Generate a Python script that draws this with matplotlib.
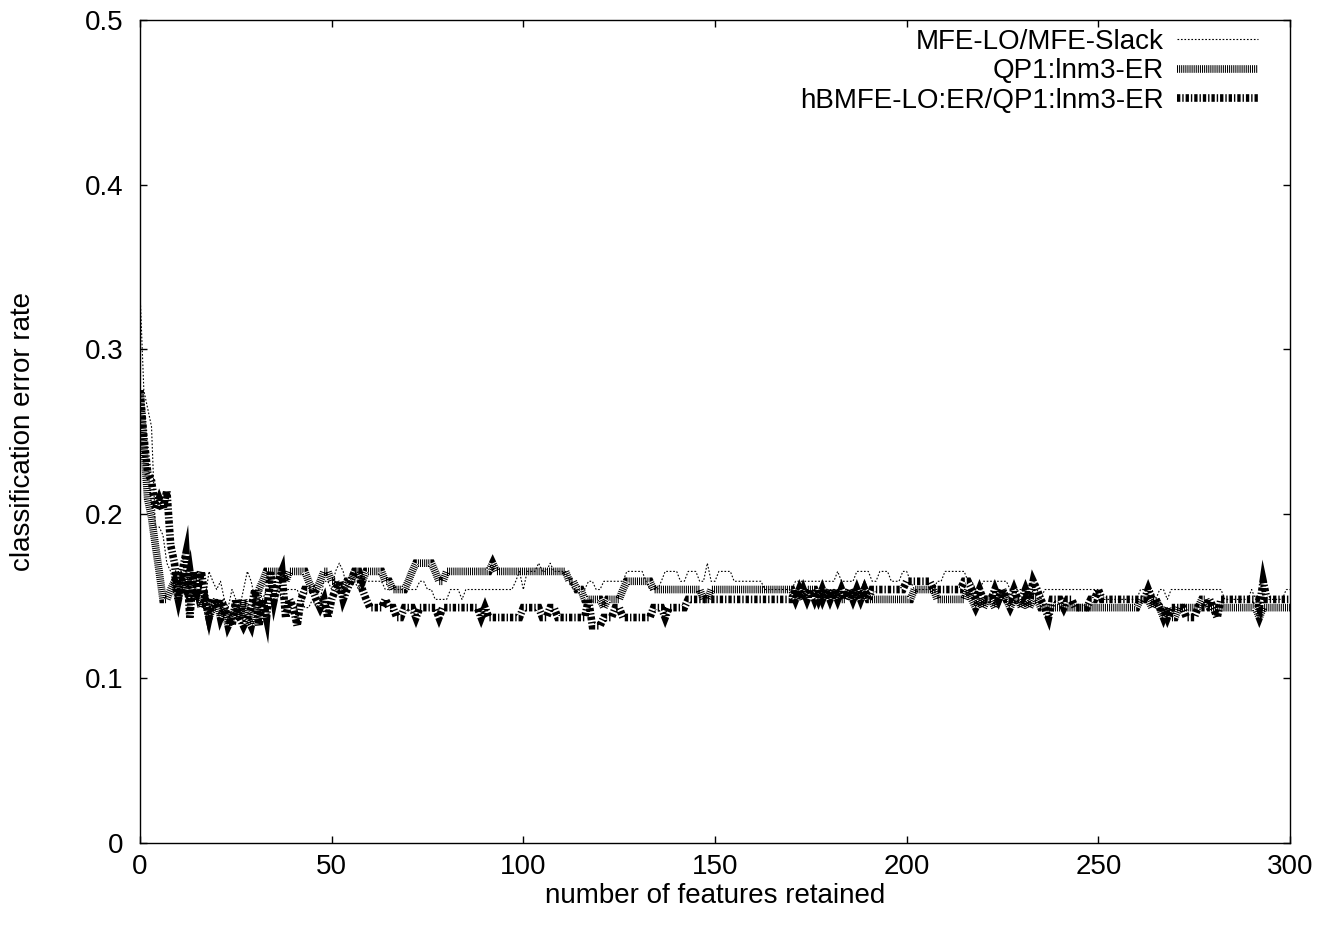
import matplotlib.pyplot as plt

plt.rcParams['font.family'] = ['Liberation Sans', 'DejaVu Sans']
plt.rcParams['lines.scale_dashes'] = False

# number of features retained (0..300)
n_features = list(range(0, 301))

# classification error rate
mfe_slack = [
    .335, .275, .264, .253, .192, .192, .187, .170, .165, .154,
    .165, .159, .165, .154, .159, .165, .154, .148, .165, .159,
    .154, .159, .148, .143, .154, .148, .143, .154, .165, .159,
    .148, .154, .148, .154, .154, .148, .154, .148, .154, .154,
    .154, .154, .148, .143, .143, .148, .143, .148, .159, .159,
    .154, .165, .170, .165, .154, .159, .159, .154, .159, .159,
    .159, .159, .159, .159, .154, .154, .154, .154, .154, .154,
    .154, .154, .154, .159, .159, .154, .154, .148, .148, .148,
    .148, .154, .154, .154, .148, .154, .154, .154, .154, .154,
    .154, .154, .154, .154, .154, .154, .154, .154, .159, .165,
    .154, .165, .165, .165, .170, .165, .165, .170, .165, .165,
    .165, .165, .159, .154, .154, .154, .154, .159, .159, .154,
    .154, .159, .159, .159, .159, .159, .159, .165, .165, .165,
    .165, .165, .159, .154, .154, .154, .159, .165, .165, .165,
    .165, .159, .159, .165, .165, .165, .159, .159, .170, .159,
    .159, .165, .165, .165, .165, .159, .159, .159, .159, .159,
    .159, .159, .159, .154, .154, .154, .154, .154, .154, .154,
    .154, .159, .159, .159, .159, .159, .159, .159, .159, .159,
    .159, .159, .165, .159, .159, .159, .159, .165, .165, .165,
    .165, .159, .159, .165, .165, .165, .159, .159, .159, .165,
    .165, .159, .154, .154, .154, .154, .154, .154, .159, .159,
    .165, .165, .165, .165, .165, .165, .159, .159, .154, .154,
    .159, .159, .159, .159, .159, .159, .159, .154, .154, .154,
    .154, .154, .148, .154, .154, .148, .154, .154, .154, .154,
    .154, .154, .154, .154, .154, .154, .154, .154, .154, .154,
    .154, .148, .148, .148, .148, .148, .148, .148, .148, .148,
    .148, .154, .154, .154, .154, .148, .154, .154, .148, .154,
    .154, .154, .154, .154, .154, .154, .154, .154, .154, .154,
    .154, .154, .154, .148, .148, .148, .148, .148, .148, .148,
    .154, .148, .148, .148, .148, .148, .148, .148, .148, .154,
    .154,
]

qp1_lnm3 = [
    .275, .242, .209, .198, .181, .165, .148, .148, .154, .159,
    .148, .159, .154, .165, .148, .154, .143, .148, .137, .143,
    .148, .137, .143, .132, .137, .143, .137, .148, .137, .132,
    .143, .154, .159, .165, .165, .165, .165, .165, .159, .165,
    .165, .165, .165, .165, .159, .154, .154, .159, .165, .165,
    .159, .159, .154, .154, .159, .159, .165, .165, .159, .165,
    .165, .165, .165, .165, .159, .159, .154, .154, .154, .154,
    .159, .165, .170, .170, .170, .170, .170, .165, .159, .159,
    .165, .165, .165, .165, .165, .165, .165, .165, .165, .165,
    .165, .165, .170, .165, .165, .165, .165, .165, .165, .165,
    .165, .165, .165, .165, .165, .165, .165, .165, .165, .165,
    .165, .165, .159, .159, .154, .154, .148, .148, .148, .148,
    .148, .143, .148, .148, .148, .148, .154, .159, .159, .159,
    .159, .159, .159, .159, .154, .154, .154, .154, .154, .154,
    .154, .154, .154, .154, .154, .154, .154, .148, .148, .154,
    .154, .154, .154, .154, .154, .154, .154, .154, .154, .154,
    .154, .154, .154, .154, .154, .154, .154, .154, .154, .154,
    .154, .148, .154, .148, .154, .154, .154, .148, .154, .148,
    .154, .148, .154, .148, .148, .154, .148, .154, .148, .154,
    .148, .148, .148, .148, .148, .148, .148, .148, .148, .148,
    .148, .148, .154, .154, .154, .154, .154, .154, .148, .148,
    .148, .148, .148, .148, .148, .148, .154, .148, .143, .148,
    .143, .148, .148, .143, .148, .154, .148, .143, .148, .148,
    .143, .148, .143, .148, .148, .143, .143, .143, .143, .143,
    .143, .143, .143, .143, .143, .143, .143, .143, .143, .143,
    .143, .143, .143, .143, .143, .143, .143, .143, .143, .143,
    .143, .148, .148, .148, .143, .148, .143, .137, .143, .137,
    .137, .143, .143, .143, .143, .143, .143, .148, .148, .143,
    .143, .143, .143, .143, .143, .143, .143, .143, .143, .143,
    .143, .143, .137, .143, .143, .143, .143, .143, .143, .143,
    .143,
]

hbmfe_qp1 = [
    .275, .247, .225, .220, .203, .209, .203, .214, .181, .170,
    .148, .165, .176, .137, .165, .154, .165, .148, .137, .148,
    .143, .148, .143, .137, .132, .148, .137, .132, .137, .143,
    .154, .132, .148, .137, .165, .148, .159, .165, .137, .148,
    .143, .132, .148, .154, .154, .154, .148, .143, .148, .137,
    .148, .154, .159, .148, .154, .159, .165, .165, .154, .148,
    .143, .143, .143, .143, .148, .143, .143, .137, .137, .143,
    .143, .143, .137, .143, .143, .143, .143, .143, .137, .143,
    .143, .143, .143, .143, .143, .143, .143, .143, .143, .137,
    .143, .137, .137, .137, .137, .137, .137, .137, .137, .137,
    .143, .143, .143, .143, .143, .137, .137, .143, .143, .137,
    .137, .137, .137, .137, .137, .137, .137, .148, .132, .132,
    .132, .137, .137, .137, .143, .143, .137, .137, .137, .137,
    .137, .137, .137, .137, .143, .143, .143, .137, .143, .143,
    .143, .143, .143, .148, .148, .148, .148, .148, .148, .148,
    .148, .148, .148, .148, .148, .148, .148, .148, .148, .148,
    .148, .148, .148, .148, .148, .148, .148, .148, .148, .148,
    .148, .154, .148, .154, .148, .154, .148, .154, .148, .154,
    .148, .154, .148, .154, .148, .154, .148, .154, .148, .154,
    .148, .154, .154, .154, .154, .154, .154, .154, .154, .154,
    .159, .159, .159, .159, .159, .159, .159, .154, .154, .154,
    .154, .154, .154, .154, .154, .159, .159, .154, .148, .154,
    .148, .148, .148, .154, .148, .154, .148, .148, .154, .148,
    .148, .154, .148, .159, .154, .148, .143, .137, .148, .148,
    .148, .143, .148, .148, .143, .143, .143, .143, .148, .148,
    .154, .148, .148, .148, .148, .148, .148, .148, .148, .148,
    .148, .148, .148, .154, .148, .148, .143, .143, .137, .143,
    .143, .143, .143, .137, .137, .137, .143, .143, .143, .148,
    .143, .137, .148, .148, .148, .148, .148, .148, .148, .148,
    .148, .148, .143, .159, .148, .148, .148, .148, .148, .148,
    .148,
]

labels = ['MFE-LO/MFE-Slack', 'QP1:lnm3-ER', 'hBMFE-LO:ER/QP1:lnm3-ER']
x_ticks = [0, 50, 100, 150, 200, 250, 300]
y_ticks = [0, 0.1, 0.2, 0.3, 0.4, 0.5]
y_ticklabels = ['0', '0.1', '0.2', '0.3', '0.4', '0.5']

fig = plt.figure(figsize=(13.37, 9.3), dpi=100)
ax = fig.add_axes([140 / 1337, 1 - 843 / 930, 1150 / 1337, 823 / 930])

ax.plot(n_features, mfe_slack, color='black', lw=0.8, ls=(0, (1.2, 1.3)),
        label=labels[0], zorder=2)
ax.plot(n_features, qp1_lnm3, color='black', lw=5.5, ls=(0, (0.75, 0.75)),
        dash_joinstyle='miter', dash_capstyle='butt', label=labels[1], zorder=3)
ax.plot(n_features, hbmfe_qp1, color='black', lw=5.5, ls=(0, (2.4, 1.4, 1.0, 1.4)),
        dash_joinstyle='miter', dash_capstyle='butt', label=labels[2], zorder=4)

ax.set_xlim(0, 300)
ax.set_ylim(0, 0.5)
ax.set_xticks(x_ticks)
ax.set_yticks(y_ticks)
ax.set_yticklabels(y_ticklabels)
ax.tick_params(direction='in', top=True, right=True, length=5, width=1,
               labelsize=20)
ax.tick_params(axis='x', pad=8)
ax.tick_params(axis='y', pad=12)
for s in ax.spines.values():
    s.set_linewidth(1.0)

ax.set_xlabel('number of features retained', fontsize=20, labelpad=2)
ax.set_ylabel('classification error rate', fontsize=20)
ax.yaxis.set_label_coords(-0.09, 0.5)

ax.legend(loc='upper right', bbox_to_anchor=(0.972, 0.989), frameon=False,
          markerfirst=False, fontsize=20, handlelength=2.9, handletextpad=0.47,
          labelspacing=0.12, borderpad=0, borderaxespad=0)

fig.savefig('out.png', dpi=100)
